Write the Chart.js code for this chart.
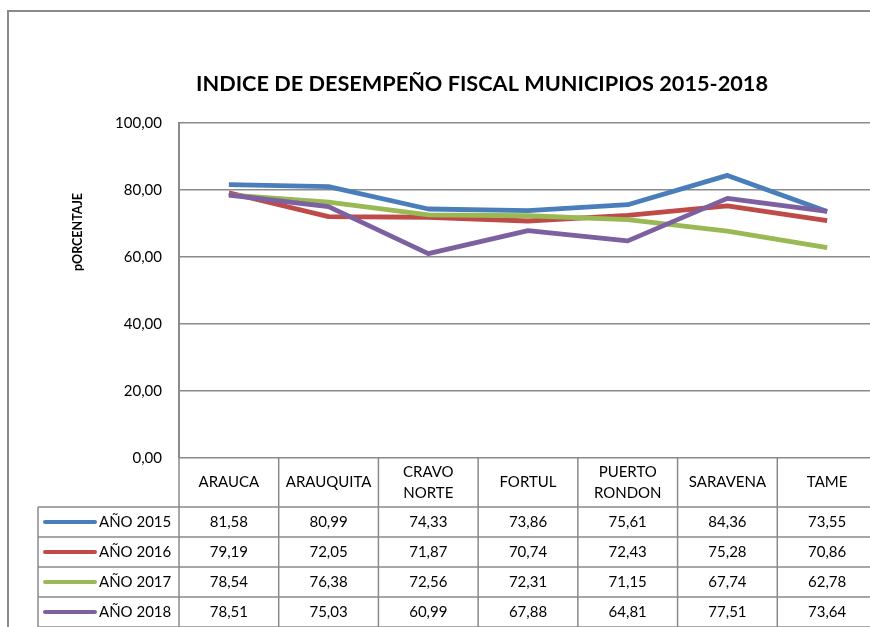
<!DOCTYPE html>
<html>
<head>
<meta charset="utf-8">
<script src="https://cdn.jsdelivr.net/npm/chart.js@4"></script>
<style>
  html, body { margin: 0; padding: 0; background: #fff; overflow: hidden; }
  #wrap { width: 890px; height: 627px; }
</style>
</head>
<body>
<div id="wrap"><canvas id="grafica" width="890" height="627"></canvas></div>
<script>
// municipios y valores del indice por año
const municipios = ['ARAUCA', 'ARAUQUITA', ['CRAVO', 'NORTE'], 'FORTUL', ['PUERTO', 'RONDON'], 'SARAVENA', 'TAME'];
const anios = ['AÑO 2015', 'AÑO 2016', 'AÑO 2017', 'AÑO 2018'];
const idf2015 = [81.58, 80.99, 74.33, 73.86, 75.61, 84.36, 73.55];
const idf2016 = [79.19, 72.05, 71.87, 70.74, 72.43, 75.28, 70.86];
const idf2017 = [78.54, 76.38, 72.56, 72.31, 71.15, 67.74, 62.78];
const idf2018 = [78.51, 75.03, 60.99, 67.88, 64.81, 77.51, 73.64];
const colores = ['#4a7ebb', '#be4b48', '#98b954', '#7d60a0'];

const series = [idf2015, idf2016, idf2017, idf2018];
const fuente = 'Lato, "Open Sans", sans-serif';
const gris = '#8a8a8a';

const coma = v => v.toFixed(2).replace('.', ',');

// tabla de datos bajo el eje X + titulo y marco
const tablaDatos = {
  id: 'tablaDatos',
  afterDraw(chart) {
    const ctx = chart.ctx;
    const area = chart.chartArea;
    const x = chart.scales.x;
    const filaAlto = 30;
    const encabezado = 49;
    const yEnc = area.bottom;
    const yFilas = yEnc + encabezado;
    const xLeyenda = 38;
    ctx.save();

    // marco exterior
    ctx.strokeStyle = gris;
    ctx.lineWidth = 2;
    ctx.beginPath();
    ctx.moveTo(8, 700);
    ctx.lineTo(8, 11);
    ctx.lineTo(chart.width, 11);
    ctx.stroke();

    // titulo
    ctx.fillStyle = '#000';
    ctx.font = 'bold 21.7px ' + fuente;
    ctx.textAlign = 'center';
    ctx.textBaseline = 'middle';
    ctx.fillText('INDICE DE DESEMPEÑO FISCAL MUNICIPIOS 2015-2018', 482, 84);

    // titulo del eje Y
    ctx.save();
    ctx.translate(78, 232);
    ctx.rotate(-Math.PI / 2);
    ctx.font = 'bold 12.5px ' + fuente;
    ctx.fillText('pORCENTAJE', 0, 0);
    ctx.restore();

    // lineas de la tabla
    ctx.strokeStyle = gris;
    ctx.lineWidth = 1.5;
    ctx.beginPath();
    ctx.moveTo(area.left, yEnc);
    ctx.lineTo(area.left, chart.height);
    for (let r = 0; r <= anios.length; r++) {
      const y = yFilas + r * filaAlto;
      ctx.moveTo(xLeyenda, y);
      ctx.lineTo(chart.width, y);
    }
    ctx.moveTo(xLeyenda, yFilas);
    ctx.lineTo(xLeyenda, chart.height);
    for (let i = 0; i < municipios.length; i++) {
      const b = i < municipios.length - 1
        ? (x.getPixelForValue(i) + x.getPixelForValue(i + 1)) / 2
        : area.right;
      ctx.moveTo(b, yEnc);
      ctx.lineTo(b, chart.height);
    }
    ctx.stroke();

    // encabezados
    ctx.fillStyle = '#000';
    ctx.font = '15px ' + fuente;
    municipios.forEach((m, i) => {
      const cx = x.getPixelForValue(i);
      const cy = yEnc + encabezado / 2;
      if (Array.isArray(m)) {
        ctx.fillText(m[0], cx, cy - 10);
        ctx.fillText(m[1], cx, cy + 11);
      } else {
        ctx.fillText(m, cx, cy);
      }
    });

    // filas con leyenda y valores
    series.forEach((vals, r) => {
      const cy = yFilas + r * filaAlto + filaAlto / 2;
      ctx.strokeStyle = colores[r];
      ctx.lineWidth = 4;
      ctx.lineCap = 'round';
      ctx.beginPath();
      ctx.moveTo(45, cy);
      ctx.lineTo(95, cy);
      ctx.stroke();
      ctx.textAlign = 'left';
      ctx.fillText(anios[r], 99, cy);
      ctx.textAlign = 'center';
      vals.forEach((v, i) => ctx.fillText(coma(v), x.getPixelForValue(i), cy));
    });
    ctx.restore();
  }
};

new Chart(document.getElementById('grafica'), {
  type: 'line',
  data: {
    labels: municipios,
    datasets: series.map((vals, i) => ({
      label: anios[i],
      data: vals,
      borderColor: colores[i],
      backgroundColor: colores[i],
      borderWidth: 4.8,
      pointRadius: 0,
      tension: 0,
      borderJoinStyle: 'round',
      order: series.length - i
    }))
  },
  options: {
    responsive: false,
    animation: false,
    devicePixelRatio: 1,
    layout: { padding: { left: 0, right: 13, top: 123, bottom: 169 } },
    plugins: {
      legend: { display: false },
      title: { display: false },
      tooltip: { enabled: false }
    },
    scales: {
      x: {
        type: 'category',
        offset: true,
        display: false
      },
      y: {
        min: 0,
        max: 100,
        afterFit(scale) { scale.width = 179; },
        ticks: {
          stepSize: 20,
          padding: 17,
          color: '#000',
          font: { family: fuente, size: 15 },
          callback: v => coma(v)
        },
        grid: { color: gris, lineWidth: 1.5, drawTicks: false },
        border: { display: true, color: gris, width: 2 }
      }
    }
  },
  plugins: [tablaDatos]
});
</script>
</body>
</html>
